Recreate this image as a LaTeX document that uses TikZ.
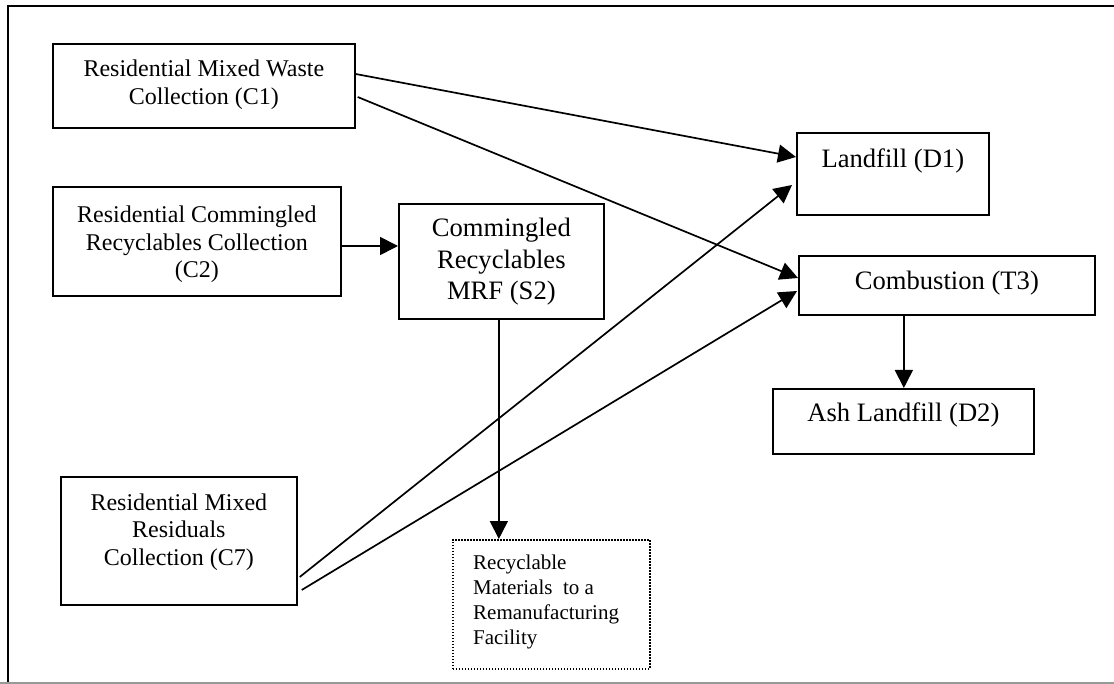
\documentclass[tikz,border=0pt]{standalone}
\usepackage{fontspec}
\setmainfont{Liberation Serif}
\usetikzlibrary{arrows.meta}
\newcommand\collfont{\fontsize{24}{27.5}\selectfont}
\newcommand\destfont{\fontsize{26.6}{31.5}\selectfont}
\newcommand\notefont{\fontsize{21}{25}\selectfont}
\begin{document}
\begin{tikzpicture}[x=1pt,y=-1pt,
  box/.style={draw, line width=1.7pt, rectangle, inner sep=0pt, anchor=north west},
  outbox/.style={draw, line width=1.6pt, dash pattern=on 1.5pt off 1.5pt, rectangle, inner sep=0pt, anchor=north west},
  lbl/.style={anchor=base, inner sep=0pt},
  flow/.style={line width=1.7pt, -{Triangle[length=18pt,width=18pt]}},
  border/.style={line width=2pt, line cap=rect},
  pageedge/.style={draw=black!40, line width=1.4pt}]
\useasboundingbox (0,0) rectangle (1114,684);

% page frame
\draw[border] (8,684) -- (8,6) -- (1120,6);
\draw[pageedge] (0,683) -- (1114,683);

% collection boxes
\node[box, minimum width=302pt, minimum height=84pt] (c1) at (52,43) {};
\node[box, minimum width=288pt, minimum height=109pt] (c2) at (52,186) {};
\node[box, minimum width=236pt, minimum height=128pt] (c7) at (60,476) {};

% facilities
\node[box, minimum width=205pt, minimum height=115pt] (s2) at (398,203) {};
\node[box, minimum width=192pt, minimum height=82pt] (d1) at (796,132) {};
\node[box, minimum width=296pt, minimum height=59pt] (t3) at (798,255) {};
\node[box, minimum width=261pt, minimum height=65pt] (d2) at (772,388) {};
\node[outbox, minimum width=197pt, minimum height=129pt] (rm) at (452,539) {};

% labels
\node[lbl] (c1t) at ([yshift=-34pt]c1.north)
  {\parbox[t]{300pt}{\centering\collfont Residential Mixed Waste\\Collection (C1)}};
\node[lbl] (c2t) at ([yshift=-37pt]c2.north)
  {\parbox[t]{286pt}{\centering\collfont Residential Commingled\\Recyclables Collection\\(C2)}};
\node[lbl] (c7t) at ([yshift=-34pt]c7.north)
  {\parbox[t]{234pt}{\centering\collfont Residential Mixed\\Residuals\\Collection (C7)}};
\node[lbl] (s2t) at ([yshift=-34pt]s2.north)
  {\parbox[t]{203pt}{\centering\destfont Commingled\\Recyclables\\MRF (S2)}};
\node[lbl] (d1t) at ([yshift=-36pt]d1.north) {\destfont Landfill (D1)};
\node[lbl] (t3t) at ([yshift=-35pt]t3.north) {\destfont Combustion (T3)};
\node[lbl] (d2t) at ([yshift=-34pt]d2.north) {\destfont Ash Landfill (D2)};
\node[anchor=base west, inner sep=0pt] (rmt) at ([xshift=21pt,yshift=-30pt]rm.north west)
  {\parbox[t]{170pt}{\raggedright\notefont Recyclable\\Materials\ \ to a\\Remanufacturing\\Facility}};

% flows
\draw[flow] ([yshift=-31pt]c1.north east) -- ([yshift=-25pt]d1.north west);
\draw[flow] ([xshift=2pt,yshift=-54pt]c1.north east) -- ([yshift=-23pt]t3.north west);
\draw[flow] ([yshift=-60pt]c2.north east) -- ([yshift=-43pt]s2.north west);
\draw[flow] ([xshift=-2.5pt]s2.south) -- ([xshift=-2.5pt]s2.south |- rm.north);
\draw[flow] ([xshift=2pt,yshift=-101pt]c7.north east) -- ([xshift=-4pt,yshift=-53pt]d1.north west);
\draw[flow] ([xshift=4pt,yshift=-114pt]c7.north east) -- ([xshift=-1pt,yshift=-36pt]t3.north west);
\draw[flow] ([xshift=-43pt]t3.south) -- ([xshift=-43pt]t3.south |- d2.north);
\end{tikzpicture}
\end{document}
